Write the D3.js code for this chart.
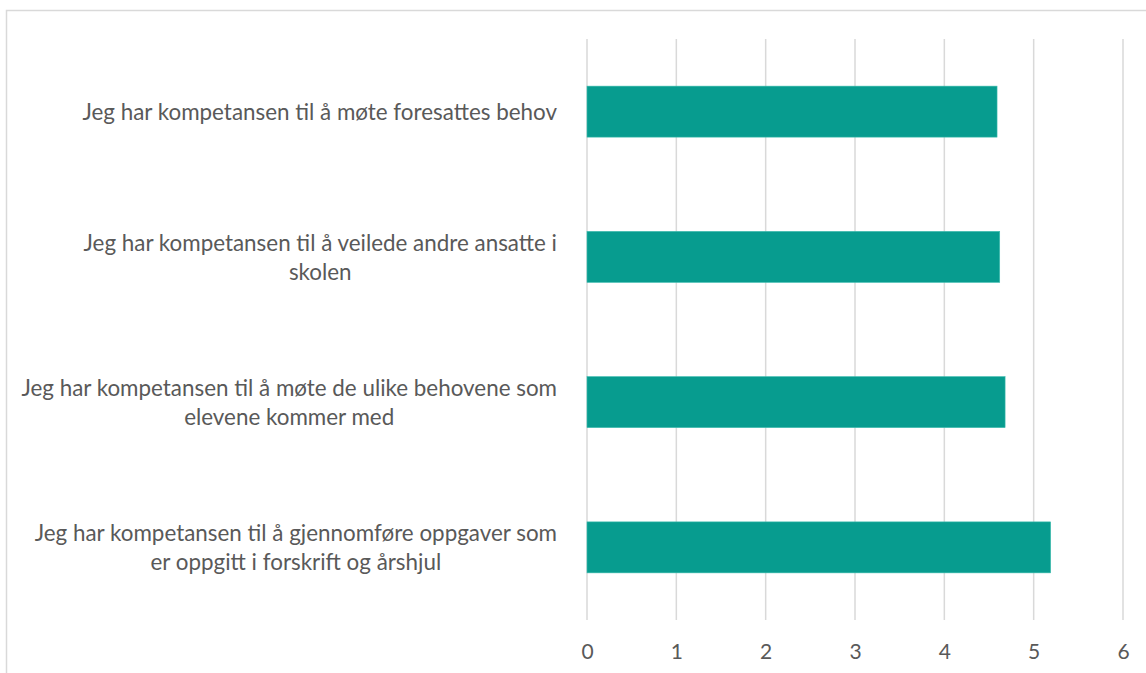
<!DOCTYPE html>
<html>
<head>
<meta charset="utf-8">
<script src="https://cdn.jsdelivr.net/npm/d3@7"></script>
<style>
  body { margin: 0; background: #fff; }
  svg { display: block; }
  text { font-family: Lato, "Open Sans", sans-serif; fill: #595959; }
</style>
</head>
<body>
<svg id="chart" width="1146" height="673"></svg>
<script>
// data
const categories = [
  ['Jeg har kompetansen til å møte foresattes behov'],
  ['Jeg har kompetansen til å veilede andre ansatte i', 'skolen'],
  ['Jeg har kompetansen til å møte de ulike behovene som', 'elevene kommer med'],
  ['Jeg har kompetansen til å gjennomføre oppgaver som', 'er oppgitt i forskrift og årshjul']
]
const values = [4.59, 4.62, 4.68, 5.19]
const xTicks = [0, 1, 2, 3, 4, 5, 6]

const svg = d3.select('#chart')

// outer chart border (runs off the right / bottom edge)
svg.append('rect')
  .attr('x', 6.5).attr('y', 10.5)
  .attr('width', 1200).attr('height', 700)
  .attr('fill', 'none')
  .attr('stroke', '#d9d9d9')
  .attr('stroke-width', 1.5)

const plotLeft = 587, plotRight = 1123, plotTop = 39, plotBottom = 620

const x = d3.scaleLinear().domain([0, 6]).range([plotLeft, plotRight])
const y = d3.scaleBand()
  .domain(d3.range(categories.length))
  .range([plotTop, plotBottom])
  .paddingInner(0.649)
  .paddingOuter(0.3245)

// gridlines
svg.append('g')
  .selectAll('line')
  .data(xTicks)
  .enter().append('line')
  .attr('x1', d => x(d)).attr('x2', d => x(d))
  .attr('y1', plotTop).attr('y2', plotBottom)
  .attr('stroke', '#d9d9d9')
  .attr('stroke-width', 1.5)

// bars
svg.append('g')
  .selectAll('rect')
  .data(values)
  .enter().append('rect')
  .attr('x', x(0))
  .attr('y', (d, i) => y(i))
  .attr('width', d => x(d) - x(0))
  .attr('height', y.bandwidth())
  .attr('fill', '#079c8f')
  .attr('stroke', '#3dbcae')
  .attr('stroke-width', 0.6)

// x axis tick labels
const xAxis = svg.append('g')
  .attr('transform', 'translate(0,' + (plotBottom + 24) + ')')
  .call(d3.axisBottom(x).tickValues(xTicks).tickFormat(d3.format('d')).tickSize(0).tickPadding(0))
xAxis.select('.domain').remove()
xAxis.selectAll('text')
  .style('font-size', '21px')
  .style('font-family', 'Lato, "Open Sans", sans-serif')
  .attr('fill', '#595959')

// category labels: lines centered in a block whose right edge is fixed
const labelRight = 557, lineH = 29
categories.forEach((lines, i) => {
  const cy = y(i) + y.bandwidth() / 2
  const g = svg.append('g')
  const t = g.selectAll('text')
    .data(lines)
    .enter().append('text')
    .attr('text-anchor', 'middle')
    .attr('dominant-baseline', 'central')
    .style('font-size', '22.4px')
    .attr('y', (d, j) => cy + (j - (lines.length - 1) / 2) * lineH)
    .text(d => d)
  let maxW = 0
  t.each(function() { maxW = Math.max(maxW, this.getComputedTextLength()) })
  t.attr('x', labelRight - maxW / 2)
})
</script>
</body>
</html>
